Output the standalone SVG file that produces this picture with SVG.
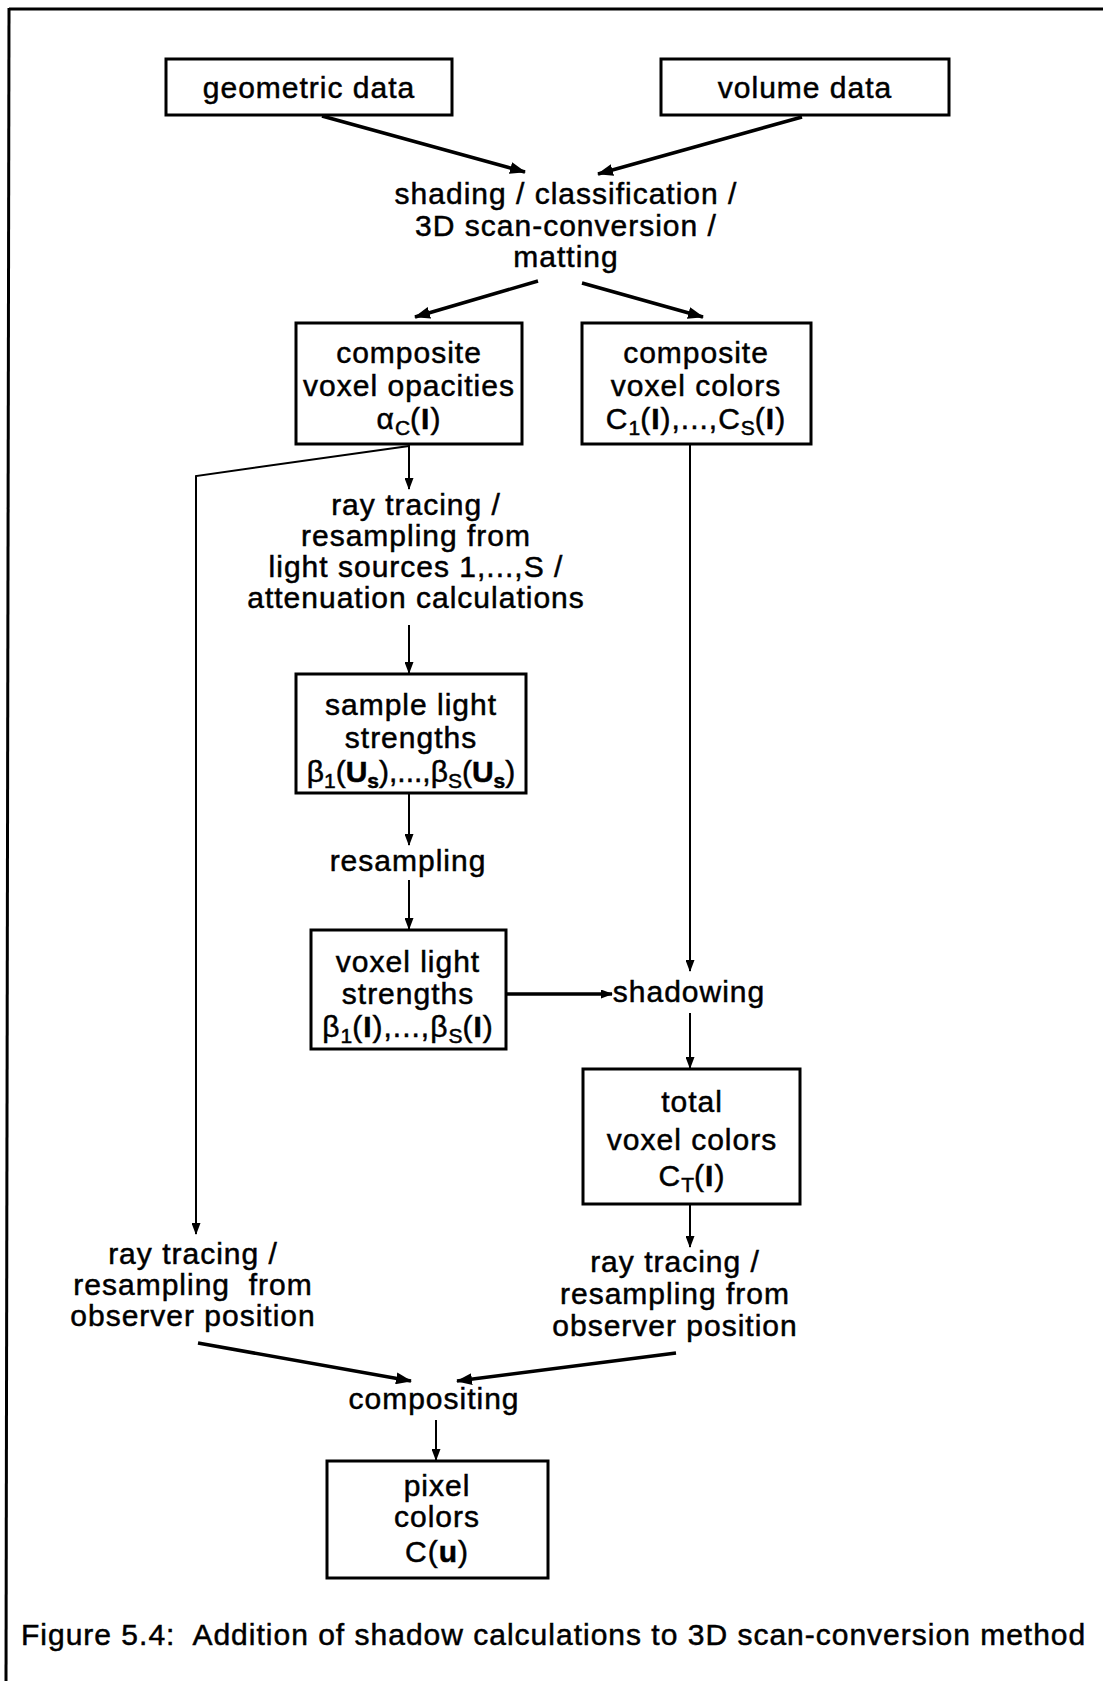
<svg xmlns="http://www.w3.org/2000/svg" width="1103" height="1681" viewBox="0 0 1103 1681">
  <style>
    text { font-family: "Liberation Sans", Arial, sans-serif; font-size: 30px; letter-spacing: 1px; fill: #000; stroke: #000; stroke-width: 0.5; text-anchor: middle; }
    .box { fill: #fff; stroke: #000; stroke-width: 3; }
    .thick { fill: none; stroke: #000; stroke-width: 3.5; }
    .thin { fill: none; stroke: #000; stroke-width: 2; }
    .frame { fill: none; stroke: #000; stroke-width: 3; }
    .sub { font-size: 21px; letter-spacing: 0; }
    .b { font-weight: bold; }
  </style>
  <defs>
    <marker id="arrow" markerUnits="userSpaceOnUse" markerWidth="16" markerHeight="12" refX="15" refY="6" orient="auto">
      <path d="M0,0 L16,6 L0,12 z" fill="#000"/>
    </marker>
    <marker id="arrowSmall" markerUnits="userSpaceOnUse" markerWidth="12" markerHeight="9" refX="11" refY="4.5" orient="auto">
      <path d="M0,0 L12,4.5 L0,9 z" fill="#000"/>
    </marker>
  </defs>
  <rect width="1103" height="1681" fill="#fff"/>

  <!-- page frame: top rule and left rule -->
  <path class="frame" d="M9,9 L1103,9"/>
  <path class="frame" d="M9,8 L6,1681" stroke-width="2.5"/>

  <!-- connectors -->
  <g id="connectors">
    <path class="thick" d="M322,116 L525,172" marker-end="url(#arrow)"/>
    <path class="thick" d="M802,117 L598,174" marker-end="url(#arrow)"/>
    <path class="thick" d="M538,281 L415,317" marker-end="url(#arrow)"/>
    <path class="thick" d="M582,283 L703,317" marker-end="url(#arrow)"/>
    <path class="thin" d="M409,445 L409,489" marker-end="url(#arrowSmall)"/>
    <path class="thin" d="M409,446 L196,476 L196,1234" marker-end="url(#arrowSmall)"/>
    <path class="thin" d="M409,625 L409,673" marker-end="url(#arrowSmall)"/>
    <path class="thin" d="M409,794 L409,845" marker-end="url(#arrowSmall)"/>
    <path class="thin" d="M409,880 L409,929" marker-end="url(#arrowSmall)"/>
    <path class="thin" d="M690,445 L690,971" marker-end="url(#arrowSmall)"/>
    <path class="thick" d="M507,994 L612,994" stroke-width="3" marker-end="url(#arrowSmall)"/>
    <path class="thin" d="M690,1013 L690,1068" marker-end="url(#arrowSmall)"/>
    <path class="thin" d="M690,1205 L690,1247" marker-end="url(#arrowSmall)"/>
    <path class="thick" d="M198,1343 L411,1381" marker-end="url(#arrow)"/>
    <path class="thick" d="M676,1353 L457,1381" marker-end="url(#arrow)"/>
    <path class="thin" d="M436,1420 L436,1460" marker-end="url(#arrowSmall)"/>
  </g>

  <g id="geometric-data">
    <rect class="box" x="166" y="59" width="286" height="56"/>
    <text x="309" y="98">geometric data</text>
  </g>

  <g id="volume-data">
    <rect class="box" x="661" y="59" width="288" height="56"/>
    <text x="805" y="98">volume data</text>
  </g>

  <g id="shading">
    <text x="566" y="204">shading / classification /</text>
    <text x="566" y="236">3D scan-conversion /</text>
    <text x="566" y="267">matting</text>
  </g>

  <g id="voxel-opacities">
    <rect class="box" x="296" y="323" width="226" height="121"/>
    <text x="409" y="363">composite</text>
    <text x="409" y="396">voxel opacities</text>
    <text x="409" y="429">α<tspan class="sub" dy="6">C</tspan><tspan dy="-6">(</tspan><tspan class="b">I</tspan>)</text>
  </g>

  <g id="voxel-colors">
    <rect class="box" x="582" y="323" width="229" height="121"/>
    <text x="696" y="363">composite</text>
    <text x="696" y="396">voxel colors</text>
    <text x="696" y="429">C<tspan class="sub" dy="6">1</tspan><tspan dy="-6">(</tspan><tspan class="b">I</tspan>),...,C<tspan class="sub" dy="6">S</tspan><tspan dy="-6">(</tspan><tspan class="b">I</tspan>)</text>
  </g>

  <g id="light-ray-tracing">
    <text x="416" y="515">ray tracing /</text>
    <text x="416" y="546">resampling from</text>
    <text x="416" y="577">light sources 1,...,S /</text>
    <text x="416" y="608">attenuation calculations</text>
  </g>

  <g id="sample-light-strengths">
    <rect class="box" x="296" y="674" width="230" height="119"/>
    <text x="411" y="715">sample light</text>
    <text x="411" y="748">strengths</text>
    <text x="411" y="782" style="letter-spacing:0">β<tspan class="sub" dy="6">1</tspan><tspan dy="-6">(</tspan><tspan class="b">U</tspan><tspan class="sub b" dy="6">s</tspan><tspan dy="-6">),...,β</tspan><tspan class="sub" dy="6">S</tspan><tspan dy="-6">(</tspan><tspan class="b">U</tspan><tspan class="sub b" dy="6">s</tspan><tspan dy="-6">)</tspan></text>
  </g>

  <g id="resampling">
    <text x="408" y="871">resampling</text>
  </g>

  <g id="voxel-light-strengths">
    <rect class="box" x="311" y="930" width="195" height="119"/>
    <text x="408" y="972">voxel light</text>
    <text x="408" y="1004">strengths</text>
    <text x="408" y="1037">β<tspan class="sub" dy="6">1</tspan><tspan dy="-6">(</tspan><tspan class="b">I</tspan>),...,β<tspan class="sub" dy="6">S</tspan><tspan dy="-6">(</tspan><tspan class="b">I</tspan>)</text>
  </g>

  <g id="shadowing">
    <text x="689" y="1002">shadowing</text>
  </g>

  <g id="total-voxel-colors">
    <rect class="box" x="583" y="1069" width="217" height="135"/>
    <text x="692" y="1112">total</text>
    <text x="692" y="1150">voxel colors</text>
    <text x="692" y="1186">C<tspan class="sub" dy="6">T</tspan><tspan dy="-6">(</tspan><tspan class="b">I</tspan>)</text>
  </g>

  <g id="observer-ray-tracing-left">
    <text x="193" y="1264">ray tracing /</text>
    <text x="193" y="1295" xml:space="preserve">resampling  from</text>
    <text x="193" y="1326">observer position</text>
  </g>

  <g id="observer-ray-tracing-right">
    <text x="675" y="1272">ray tracing /</text>
    <text x="675" y="1304">resampling from</text>
    <text x="675" y="1336">observer position</text>
  </g>

  <g id="compositing">
    <text x="434" y="1409">compositing</text>
  </g>

  <g id="pixel-colors">
    <rect class="box" x="327" y="1461" width="221" height="117"/>
    <text x="437" y="1496">pixel</text>
    <text x="437" y="1527">colors</text>
    <text x="437" y="1562">C(<tspan class="b">u</tspan>)</text>
  </g>

  <text x="21" y="1645" style="text-anchor:start" xml:space="preserve">Figure 5.4:  Addition of shadow calculations to 3D scan-conversion method</text>
</svg>
